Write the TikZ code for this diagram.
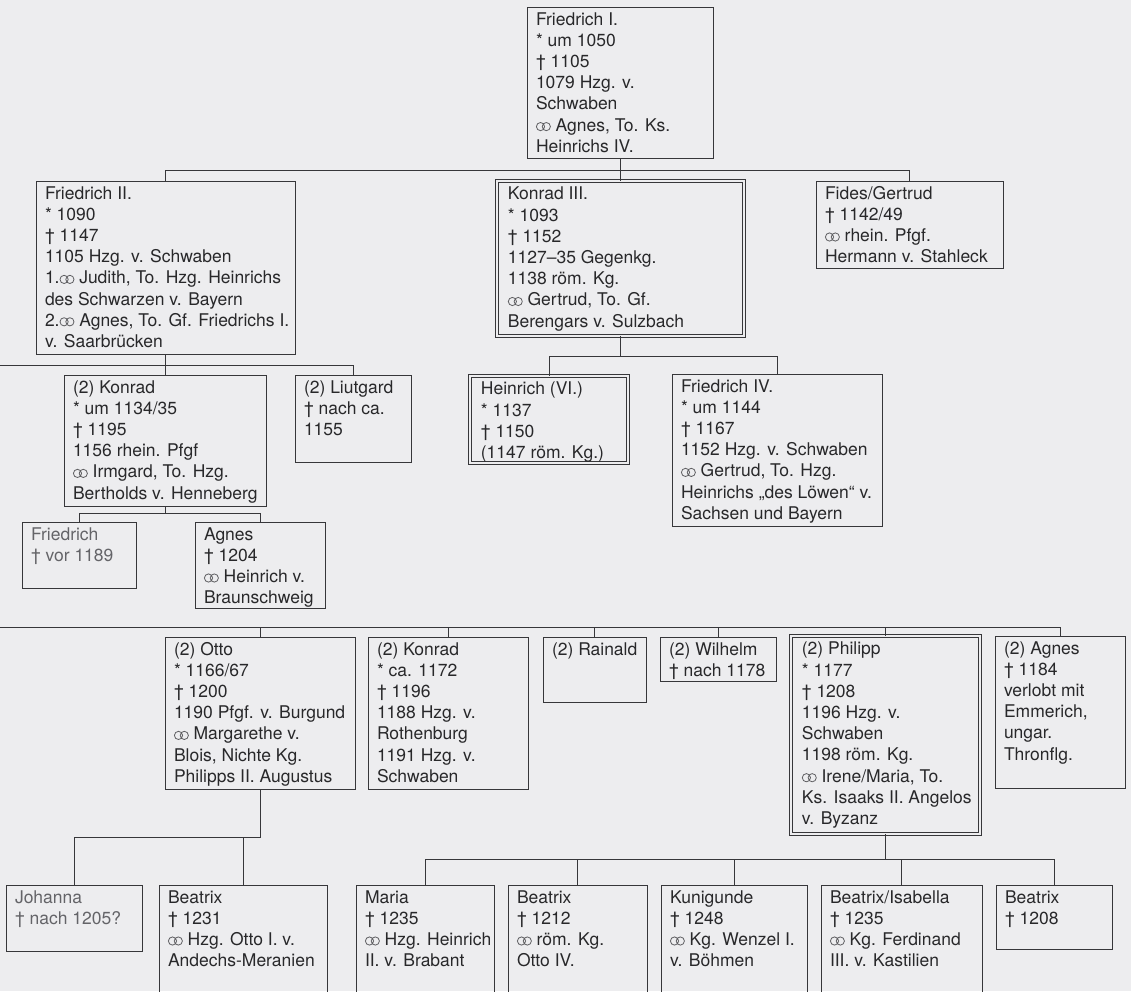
\documentclass[tikz,border=0pt]{standalone}
\usepackage{fontspec}
\setmainfont{TeX Gyre Heros}
\definecolor{bg}{RGB}{237,237,239}
\definecolor{linec}{RGB}{55,55,58}
\definecolor{txtc}{RGB}{40,40,42}
\definecolor{lighttxt}{RGB}{100,100,104}
\definecolor{marrc}{RGB}{95,95,98}
\newcommand\Ln[1]{\hbox{#1}}
% marriage sign: two interlocking rings
\newcommand\marr{\tikz[baseline=0pt]{\draw[line width=0.8pt, draw=marrc] (4.6pt,4.4pt) circle[radius=4.1pt] (10.4pt,4.4pt) circle[radius=4.1pt];}}
\tikzset{
  box/.style={draw=linec, line width=1pt, inner sep=0pt, outer sep=0pt, anchor=north west},
  dbox/.style={box, line width=1pt, double=bg, double distance=1.8pt},
  txt/.style={anchor=base west, inner sep=0pt, outer sep=0pt, text=txtc, font=\fontsize{17.5}{21.2}\selectfont},
  conn/.style={draw=linec, line width=1pt}
}
\newcommand\pers[7][]{%
  \node[box, minimum width={#5-#3}, minimum height={#6-#4}] (#2) at (#3,#4) {};
  \node[txt,#1] at ([shift={(9,18)}]#2.north west) {\vtop{#7}};}
\newcommand\persD[6]{%
  \node[dbox, minimum width={#4-#2-3.8}, minimum height={#5-#3-3.8}] (#1) at ({#2+1.9},{#3+1.9}) {};
  \node[txt] at ([shift={(11,19)}]#1.north west) {\vtop{#6}};}
\begin{document}
\begin{tikzpicture}[x=1pt,y=-1pt]
\useasboundingbox (0,0) rectangle (1131,991);
\fill[bg] (0,0) rectangle (1131,991);
\clip (0,0) rectangle (1131,991);

% generation 1
\pers{f1}{527}{7}{713}{158}{\Ln{Friedrich I.}\Ln{* um 1050}\Ln{† 1105}\Ln{1079 Hzg. v.}\Ln{Schwaben}\Ln{\marr\ Agnes, To. Ks.}\Ln{Heinrichs IV.}}

% generation 2
\pers{f2}{36}{181}{295}{354}{\Ln{Friedrich II.}\Ln{* 1090}\Ln{† 1147}\Ln{1105 Hzg. v. Schwaben}\Ln{1.\marr\ Judith, To. Hzg. Heinrichs}\Ln{des Schwarzen v. Bayern}\Ln{2.\marr\ Agnes, To. Gf. Friedrichs I.}\Ln{v. Saarbrücken}}
\persD{k3}{495}{179}{746}{338}{\Ln{Konrad III.}\Ln{* 1093}\Ln{† 1152}\Ln{1127–35 Gegenkg.}\Ln{1138 röm. Kg.}\Ln{\marr\ Gertrud, To. Gf.}\Ln{Berengars v. Sulzbach}}
\pers{fides}{816}{181}{1003}{268}{\Ln{Fides/Gertrud}\Ln{† 1142/49}\Ln{\marr\ rhein. Pfgf.}\Ln{Hermann v. Stahleck}}

% generation 3
\pers{k2a}{64}{375}{266}{506}{\Ln{(2) Konrad}\Ln{* um 1134/35}\Ln{† 1195}\Ln{1156 rhein. Pfgf}\Ln{\marr\ Irmgard, To. Hzg.}\Ln{Bertholds v. Henneberg}}
\pers{liut}{295}{375}{411}{462}{\Ln{(2) Liutgard}\Ln{† nach ca.}\Ln{1155}}
\persD{h6}{468}{374}{630}{465}{\Ln{Heinrich (VI.)}\Ln{* 1137}\Ln{† 1150}\Ln{(1147 röm. Kg.)}}
\pers{f4}{672}{374}{882}{526}{\Ln{Friedrich IV.}\Ln{* um 1144}\Ln{† 1167}\Ln{1152 Hzg. v. Schwaben}\Ln{\marr\ Gertrud, To. Hzg.}\Ln{Heinrichs „des Löwen“ v.}\Ln{Sachsen und Bayern}}

% generation 4
\pers[text=lighttxt]{fr}{22}{522}{136}{588}{\Ln{Friedrich}\Ln{† vor 1189}}
\pers{ag}{195}{522}{325}{608}{\Ln{Agnes}\Ln{† 1204}\Ln{\marr\ Heinrich v.}\Ln{Braunschweig}}

% generation 5
\pers{otto}{165}{637}{355}{789}{\Ln{(2) Otto}\Ln{* 1166/67}\Ln{† 1200}\Ln{1190 Pfgf. v. Burgund}\Ln{\marr\ Margarethe v.}\Ln{Blois, Nichte Kg.}\Ln{Philipps II. Augustus}}
\pers{k2b}{368}{637}{528}{789}{\Ln{(2) Konrad}\Ln{* ca. 1172}\Ln{† 1196}\Ln{1188 Hzg. v.}\Ln{Rothenburg}\Ln{1191 Hzg. v.}\Ln{Schwaben}}
\pers{rain}{543}{637}{646}{702}{\Ln{(2) Rainald}}
\pers{wil}{660}{637}{776}{681}{\Ln{(2) Wilhelm}\Ln{† nach 1178}}
\persD{phil}{789}{634}{982}{836}{\Ln{(2) Philipp}\Ln{* 1177}\Ln{† 1208}\Ln{1196 Hzg. v.}\Ln{Schwaben}\Ln{1198 röm. Kg.}\Ln{\marr\ Irene/Maria, To.}\Ln{Ks. Isaaks II. Angelos}\Ln{v. Byzanz}}
\pers{ag2}{995}{636}{1125}{788}{\Ln{(2) Agnes}\Ln{† 1184}\Ln{verlobt mit}\Ln{Emmerich,}\Ln{ungar.}\Ln{Thronflg.}}

% generation 6
\pers[text=lighttxt]{joh}{6}{885}{142}{951}{\Ln{Johanna}\Ln{† nach 1205?}}
\pers{bea1}{159}{885}{327}{1010}{\Ln{Beatrix}\Ln{† 1231}\Ln{\marr\ Hzg. Otto I. v.}\Ln{Andechs-Meranien}}
\pers{maria}{356}{885}{494}{1010}{\Ln{Maria}\Ln{† 1235}\Ln{\marr\ Hzg. Heinrich}\Ln{II. v. Brabant}}
\pers{bea2}{508}{885}{647}{1010}{\Ln{Beatrix}\Ln{† 1212}\Ln{\marr\ röm. Kg.}\Ln{Otto IV.}}
\pers{kun}{661}{885}{807}{1010}{\Ln{Kunigunde}\Ln{† 1248}\Ln{\marr\ Kg. Wenzel I.}\Ln{v. Böhmen}}
\pers{bi}{821}{885}{982}{1010}{\Ln{Beatrix/Isabella}\Ln{† 1235}\Ln{\marr\ Kg. Ferdinand}\Ln{III. v. Kastilien}}
\pers{bea3}{996}{885}{1112}{949}{\Ln{Beatrix}\Ln{† 1208}}

% connector bus levels
\coordinate (busA) at (0,170);
\coordinate (busB) at (0,365);
\coordinate (busC) at (0,356);
\coordinate (busD) at (0,513);
\coordinate (busE) at (0,627);
\coordinate (busF) at (0,837);
\coordinate (busG) at (0,859);

% Friedrich I. -> children
\draw[conn] (f1.south) -- (f1.south |- busA);
\draw[conn] (f2.north) -- (f2.north |- busA) -- (fides.north |- busA) -- (fides.north);
\draw[conn] (k3.north) -- (k3.north |- busA);

% Friedrich II. -> children (line continues off the left edge)
\draw[conn] (f2.south) -- (f2.south |- k2a.north);
\draw[conn] (busB) -- (liut.north |- busB) -- (liut.north);

% Konrad III. -> children
\draw[conn] (k3.south) -- (k3.south |- busC);
\draw[conn] (h6.north) -- (h6.north |- busC) -- (f4.north |- busC) -- (f4.north);

% Konrad (2) -> children
\draw[conn] (k2a.south) -- (k2a.south |- busD);
\draw[conn] (fr.north) -- (fr.north |- busD) -- (ag.north |- busD) -- (ag.north);

% generation 5 (line from the left edge)
\draw[conn] (busE) -- (ag2.north |- busE) -- (ag2.north);
\draw[conn] (otto.north) -- (otto.north |- busE);
\draw[conn] (k2b.north) -- (k2b.north |- busE);
\draw[conn] (rain.north) -- (rain.north |- busE);
\draw[conn] (wil.north) -- (wil.north |- busE);
\draw[conn] (phil.north) -- (phil.north |- busE);

% Otto -> children
\draw[conn] (otto.south) -- (otto.south |- busF) -- (joh.north |- busF) -- (joh.north);
\draw[conn] (bea1.north) -- (bea1.north |- busF);

% Philipp -> children
\draw[conn] (phil.south) -- (phil.south |- busG);
\draw[conn] (maria.north) -- (maria.north |- busG) -- (bea3.north |- busG) -- (bea3.north);
\draw[conn] (bea2.north) -- (bea2.north |- busG);
\draw[conn] (kun.north) -- (kun.north |- busG);
\draw[conn] (bi.north) -- (bi.north |- busG);
\end{tikzpicture}
\end{document}
